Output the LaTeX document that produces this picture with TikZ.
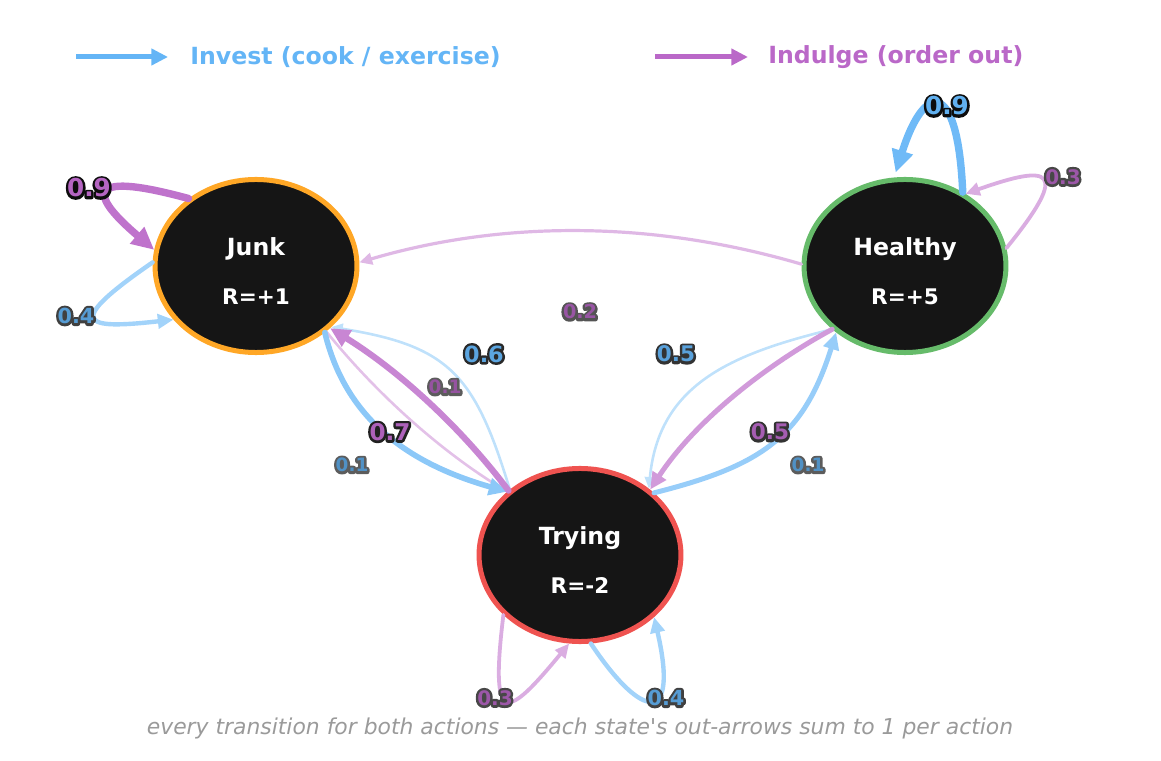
\documentclass[tikz,border=0pt]{standalone}
\usepackage{fontspec}
\setmainfont{DejaVu Sans}
\usepackage{tikz}
\usetikzlibrary{shapes.geometric,arrows.meta}
\usepackage{xcolor}
\definecolor{investc}{HTML}{64B5F6}
\definecolor{indulgec}{HTML}{BA68C8}
\definecolor{junkc}{HTML}{FFA726}
\definecolor{healthyc}{HTML}{66BB6A}
\definecolor{tryingc}{HTML}{EF5350}
\definecolor{nodebg}{HTML}{151515}
\definecolor{notec}{HTML}{9A9A9A}
% 1 unit = 1 pixel = 0.72pt
\tikzstyle{state}=[ellipse, draw, line width=3.6pt, fill=nodebg, minimum width=145.4pt,
minimum height=124.6pt, inner sep=0pt, text=white, align=center,
font=\bfseries\fontsize{17}{20}\selectfont]
\tikzstyle{legend}=[anchor=west, inner sep=0pt, font=\bfseries\fontsize{17}{20}\selectfont]
\tikzstyle{legarrow}=[line width=3.6pt, -{Triangle[length=12pt,width=11.5pt]}]
\tikzset{
  move/.code 2 args={%
    \pgfmathsetmacro\elw{(2+6*#2)*0.72}%
    \pgfmathtruncatemacro\emix{35+65*#2}%
    \pgfmathsetmacro\ahl{(10+14*#2)*0.72}%
    \pgfmathsetmacro\ahw{(9+13*#2)*0.72}%
    \edef\moveopts{draw=#1!\emix!white,line width=\elw pt,line cap=round,
      -{Triangle[length=\ahl pt,width=\ahw pt]}}%
    \expandafter\tikzset\expandafter{\moveopts}},
  invest/.style={move={investc}{#1}},
  indulge/.style={move={indulgec}{#1}}
}
% probability label, outlined text
\newcommand\plabel[2]{%
  \pgfmathsetmacro\lfs{12.7+5.6*#2}%
  \pgfmathtruncatemacro\lmix{78+22*#2}%
  \pgfmathtruncatemacro\lblk{60+40*#2}%
  \fontsize{\lfs}{\lfs}\selectfont\bfseries
  \rlap{\color{black!\lblk}\special{pdf:literal direct 2 Tr 3.6 w 1 j}#2\special{pdf:literal direct 0 Tr}}%
  {\color{#1!\lmix!black}#2}}

\begin{document}
\begin{tikzpicture}[x=0.72pt, y=-0.72pt]
    \useasboundingbox (0,0) rectangle (1161,761);

    % legend
    \coordinate (a1) at (76,57);
    \node (i1)[legend, text=investc] at (190,57) {Invest (cook / exercise)};
    \draw[legarrow, investc, shorten >=15.8pt] (a1) -- (i1);
    \coordinate (a2) at (655,57);
    \node (i2)[legend, text=indulgec] at (768,57) {Indulge (order out)};
    \draw[legarrow, indulgec, shorten >=14.4pt] (a2) -- (i2);

    % states
    \node (1)[state, draw=junkc] at (256,266)
        {\rule{0pt}{20pt}Junk\\[15.5pt]{\fontsize{15.5}{18}\selectfont R=+1}};
    \node (2)[state, draw=healthyc] at (905,266)
        {\rule{0pt}{20pt}Healthy\\[15.5pt]{\fontsize{15.5}{18}\selectfont R=+5}};
    \node (3)[state, draw=tryingc] at (580,555)
        {\rule{0pt}{20pt}Trying\\[15.5pt]{\fontsize{15.5}{18}\selectfont R=-2}};

    % transitions
    \draw[indulge=0.2] (2.179) .. controls +(-146,-43) and +(146,-43) .. (1.2);
    \draw[invest=0.1] (3.137) .. controls +(-35,-115) and +(118,19) .. (1.-39);
    \draw[indulge=0.1] (1.-43) .. controls +(50,62) and +(-68,-42) .. (3.139);
    \draw[invest=0.6] (1.-44) .. controls +(22,92) and +(-91,-26) .. (3.139);
    \draw[indulge=0.7] (3.138) .. controls +(-48,-64) and +(68,42) .. (1.-40);
    \draw[invest=0.1] (2.-139) .. controls +(-102,25) and +(10,-104) .. (3.44);
    \draw[indulge=0.5] (2.-139.5) .. controls +(-70,38) and +(44,-67) .. (3.43);
    \draw[invest=0.5] (3.40) .. controls +(107,-27) and +(-33,105) .. (2.-136);
    \draw[indulge=0.9] (1.135) .. controls +(-110,-30) and +(-61,-52) .. (1.171);
    \draw[invest=0.4] (1.178) .. controls +(-90,62) and +(-90,10) .. (1.213.5);
    \draw[invest=0.9, shorten >=3.6pt] (2.52) .. controls +(-5,-115) and +(30,-95) .. (2.97);
    \draw[indulge=0.3] (2.10) .. controls +(65,-80) and +(85,-30) .. (2.50);
    \draw[indulge=0.3] (3.-142) .. controls +(-14,115) and +(-62,75) .. (3.-97.5);
    \draw[invest=0.4] (3.-83.5) .. controls +(52,78) and +(25,108) .. (3.-40);

    % probabilities
    \node (p1) at (89,188) {\plabel{indulgec}{0.9}};
    \node (p2) at (76,316) {\plabel{investc}{0.4}};
    \node (p3) at (947,106) {\plabel{investc}{0.9}};
    \node (p4) at (1063,177) {\plabel{indulgec}{0.3}};
    \node (p5) at (580,312) {\plabel{indulgec}{0.2}};
    \node (p6) at (484,354) {\plabel{investc}{0.6}};
    \node (p7) at (390,432) {\plabel{indulgec}{0.7}};
    \node (p8) at (352,465) {\plabel{investc}{0.1}};
    \node (p9) at (445,387) {\plabel{indulgec}{0.1}};
    \node (p10) at (676,354) {\plabel{investc}{0.5}};
    \node (p11) at (770,432) {\plabel{indulgec}{0.5}};
    \node (p12) at (808,465) {\plabel{investc}{0.1}};
    \node (p13) at (495,698) {\plabel{indulgec}{0.3}};
    \node (p14) at (666,698) {\plabel{investc}{0.4}};

    \node (n)[text=notec, font=\itshape\fontsize{15.75}{18}\selectfont] at (580,728)
        {every transition for both actions — each state\textquotesingle s out-arrows sum to 1 per action};
\end{tikzpicture}
\end{document}
